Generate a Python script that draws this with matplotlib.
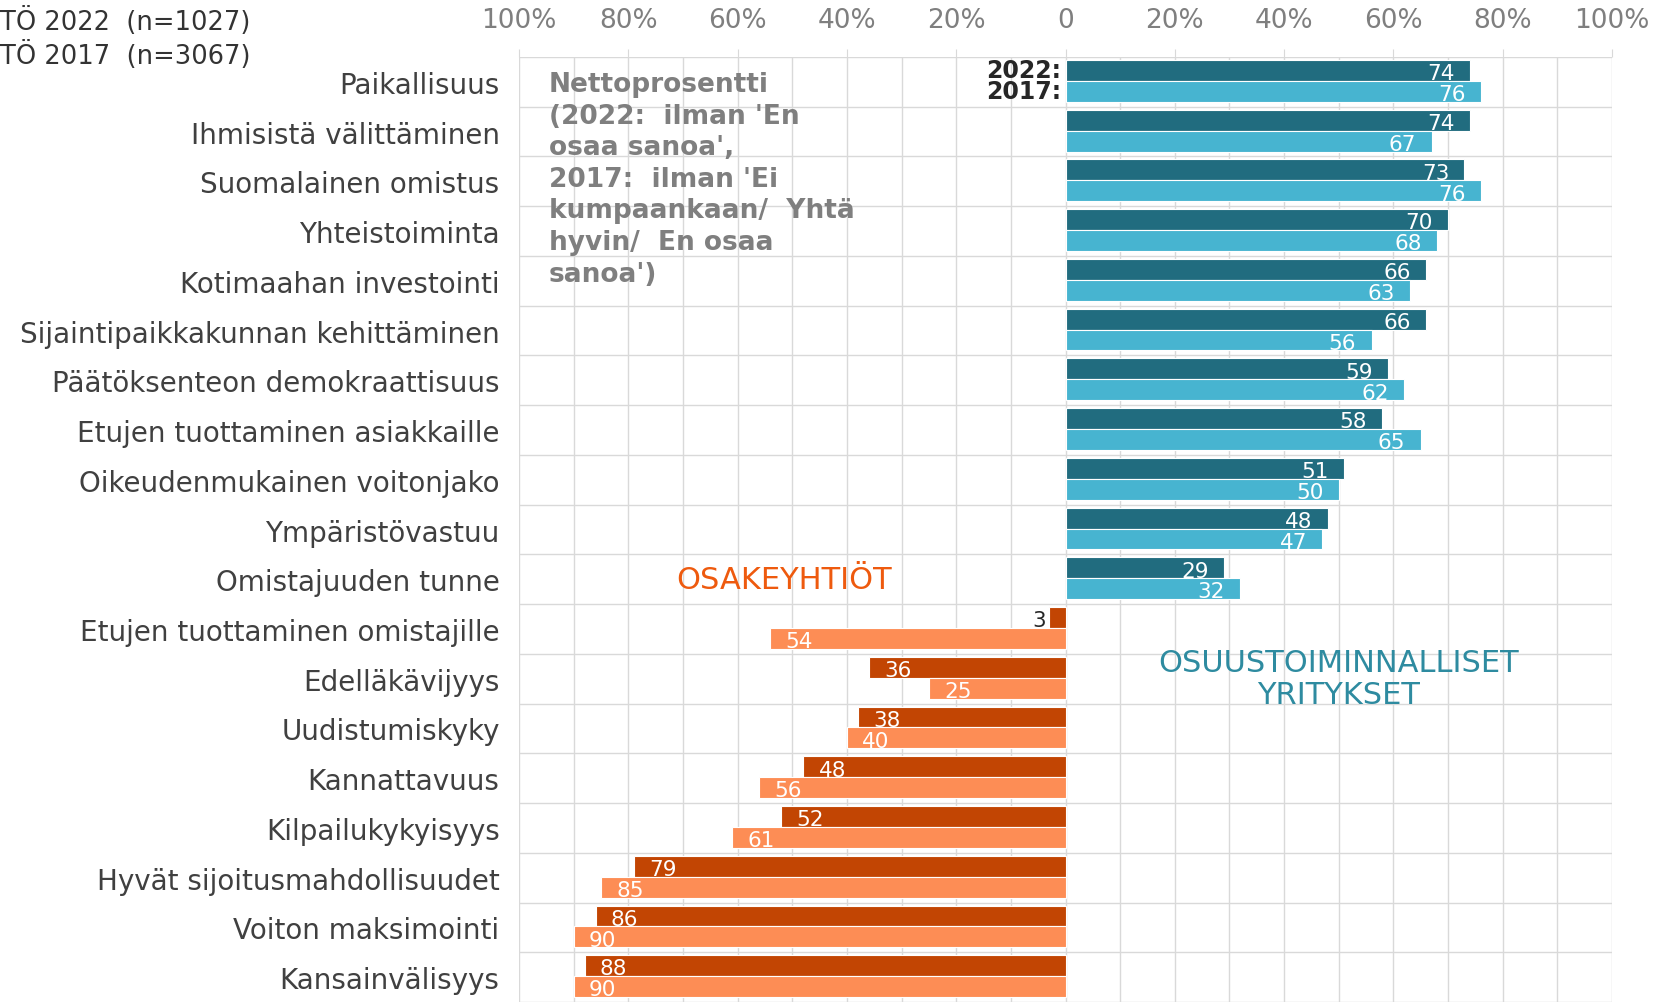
import numpy as np
import matplotlib.pyplot as plt

categories = ["Paikallisuus", "Ihmisistä välittäminen", "Suomalainen omistus",
              "Yhteistoiminta", "Kotimaahan investointi",
              "Sijaintipaikkakunnan kehittäminen", "Päätöksenteon demokraattisuus",
              "Etujen tuottaminen asiakkaille", "Oikeudenmukainen voitonjako",
              "Ympäristövastuu", "Omistajuuden tunne",
              "Etujen tuottaminen omistajille", "Edelläkävijyys", "Uudistumiskyky",
              "Kannattavuus", "Kilpailukykyisyys", "Hyvät sijoitusmahdollisuudet",
              "Voiton maksimointi", "Kansainvälisyys"]
# net percentages; first 11 rows = co-operatives (right), rest = osakeyhtiöt (left)
v2022 = [74, 74, 73, 70, 66, 66, 59, 58, 51, 48, 29, 3, 36, 38, 48, 52, 79, 86, 88]
v2017 = [76, 67, 76, 68, 63, 56, 62, 65, 50, 47, 32, 54, 25, 40, 56, 61, 85, 90, 90]
n_coop = 11
tick_vals = [-100, -80, -60, -40, -20, 0, 20, 40, 60, 80, 100]
tick_labels = ["100%", "80%", "60%", "40%", "20%", "0", "20%", "40%", "60%", "80%", "100%"]

teal_dark, teal_light = "#216C7F", "#47B4D0"
org_dark, org_light = "#C24503", "#FD8D55"
grid_c = "#d9d9d9"

fig = plt.figure(figsize=(16.57, 10.03), dpi=100)
ax = fig.add_axes([519 / 1657, 0, 1093 / 1657, 1 - 58 / 1003])

y = np.arange(len(categories))
sign = np.array([1] * n_coop + [-1] * (len(categories) - n_coop))
c_dark = [teal_dark] * n_coop + [org_dark] * (len(categories) - n_coop)
c_light = [teal_light] * n_coop + [org_light] * (len(categories) - n_coop)
h = 0.42
b1 = ax.barh(y - 0.23, sign * np.array(v2022), height=h, color=c_dark,
             edgecolor="white", linewidth=0.8, zorder=3)
b2 = ax.barh(y + 0.19, sign * np.array(v2017), height=h, color=c_light,
             edgecolor="white", linewidth=0.8, zorder=3)

for bars, vals in ((b1, v2022), (b2, v2017)):
    for i, (bar, v) in enumerate(zip(bars, vals)):
        yc = bar.get_y() + bar.get_height() / 2
        if sign[i] > 0:
            ax.annotate(str(v), (v, yc), xytext=(-11, -2), textcoords="offset points",
                        ha="right", va="center", color="white", fontsize=15.5, zorder=4)
        elif v < 10:
            ax.annotate(str(v), (-v, yc), xytext=(-2, -2), textcoords="offset points",
                        ha="right", va="center", color="#262626", fontsize=15.5, zorder=4)
        else:
            ax.annotate(str(v), (-v, yc), xytext=(11, -2), textcoords="offset points",
                        ha="left", va="center", color="white", fontsize=15.5, zorder=4)

ax.set_xlim(-100, 100)
ax.set_ylim(18.39, -0.5)
ax.xaxis.tick_top()
ax.set_xticks(tick_vals)
ax.set_xticklabels(tick_labels)
ax.set_xticks(np.arange(-90, 91, 20), minor=True)
ax.tick_params(axis="x", which="major", length=6, color=grid_c, labelcolor="#7f7f7f",
               labelsize=19, pad=11)
ax.tick_params(axis="x", which="minor", length=0)
ax.set_yticks(y)
ax.set_yticklabels(categories)
ax.set_yticks(np.arange(-0.5, 19, 1), minor=True)
ax.tick_params(axis="y", which="both", length=0, labelsize=20, labelcolor="#404040", pad=14)
ax.grid(which="minor", color=grid_c, linewidth=1, zorder=0)
ax.grid(which="major", axis="x", color=grid_c, linewidth=1, zorder=0)
for s in ax.spines.values():
    s.set_visible(False)

ax.annotate("2022:", (0, -0.23), xytext=(-3, 0), textcoords="offset points",
            ha="right", va="center", fontsize=17, fontweight="bold", color="#262626")
ax.annotate("2017:", (0, 0.19), xytext=(-3, 0), textcoords="offset points",
            ha="right", va="center", fontsize=17, fontweight="bold", color="#262626")

note = ("Nettoprosentti\n(2022:  ilman 'En\nosaa sanoa',\n2017:  ilman 'Ei\n"
        "kumpaankaan/  Yhtä\nhyvin/  En osaa\nsanoa')")
ax.text(-94.5, -0.22, note, ha="left", va="top", fontsize=19, fontweight="bold",
        color="#7f7f7f", linespacing=1.28)

ax.text(-51.5, 10.0, "OSAKEYHTIÖT", ha="center", va="center", fontsize=22, color="#EE5A0E")
ax.text(50, 12.0, "OSUUSTOIMINNALLISET\nYRITYKSET", ha="center", va="center",
        fontsize=22, color="#2E8BA0", linespacing=1.15)

fig.text(0, 1 - 21 / 1003, "TÖ 2022  (n=1027)", ha="left", va="center", fontsize=18.5, color="#333333")
fig.text(0, 1 - 55 / 1003, "TÖ 2017  (n=3067)", ha="left", va="center", fontsize=18.5, color="#333333")

fig.savefig("out.png", dpi=100)
